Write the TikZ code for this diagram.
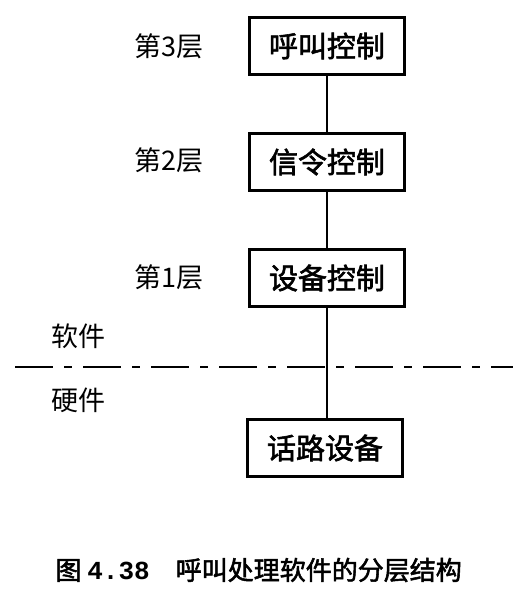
\documentclass[tikz,border=0pt]{standalone}
\usepackage{fontspec}
\setmainfont{Noto Sans CJK SC}[AutoFakeBold=2]
\newfontfamily\capmono{Liberation Mono}
\usepackage{tikz}
\usetikzlibrary{backgrounds}

\begin{document}
\begin{tikzpicture}[x=1pt,y=-1pt,
  layerbox/.style={draw,line width=3.5pt,minimum width=155pt,minimum height=57pt,
    inner sep=0pt,font=\fontsize{29}{29}\selectfont\bfseries},
  layerlabel/.style={font=\fontsize{27}{27}\selectfont},
  link/.style={line width=1.3pt},
  sepline/.style={line width=1.6pt,dash pattern=on 38pt off 11pt on 8pt off 11pt}]
\useasboundingbox (0,0) rectangle (528,590);
% Schichten (Software)
\node[layerbox] (call) at (327,46) {呼叫控制};
\node[layerbox] (signal) at (327,162) {信令控制};
\node[layerbox] (device) at (327,278) {设备控制};
% Hardware
\node[layerbox] (path) at (325,448) {话路设备};
\node[layerlabel] (l3) at (169,46) {第3层};
\node[layerlabel] (l2) at (169,160) {第2层};
\node[layerlabel] (l1) at (169,277) {第1层};
\node[layerlabel] (soft) at (79,336) {软件};
\node[layerlabel] (hard) at (79,400) {硬件};
\draw[link] (call) -- (signal);
\draw[link] (signal) -- (device);
\draw[link] (device.south) -- (device.south |- path.north);
\coordinate (sepL) at (15,367);
\coordinate (sepR) at (513,367);
\draw[sepline] (sepL) -- (sepR);
% Bildunterschrift
\node[anchor=west,font=\fontsize{26}{26}\selectfont\bfseries] (caption) at (52,570)
  {图 {\capmono 4.38}\hspace{26pt}呼叫处理软件的分层结构};
\end{tikzpicture}
\end{document}
